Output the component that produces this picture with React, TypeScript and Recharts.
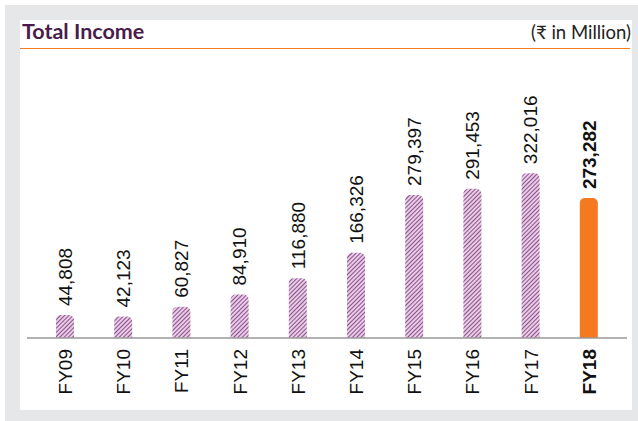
import { BarChart, Bar, XAxis, YAxis, Cell, LabelList } from 'recharts'

const categories = ['FY09', 'FY10', 'FY11', 'FY12', 'FY13', 'FY14', 'FY15', 'FY16', 'FY17', 'FY18']
const totalIncome = [44808, 42123, 60827, 84910, 116880, 166326, 279397, 291453, 322016, 273282]
const highlightYear = 'FY18'

const data = categories.map((year, i) => ({ year, value: totalIncome[i] }))

const FONT = '"Liberation Sans", Arial, sans-serif'

function ValueLabel(props: any) {
  const { x, y, width, value, index } = props
  const cx = x + width / 2
  const ty = y - 9
  const bold = categories[index] === highlightYear
  return (
    <text
      x={cx}
      y={ty}
      dy="0.36em"
      textAnchor="start"
      transform={`rotate(-90 ${cx} ${ty})`}
      fontFamily={FONT}
      fontSize={19}
      fontWeight={bold ? 700 : 400}
      fill="#111"
    >
      {Number(value).toLocaleString('en-US')}
    </text>
  )
}

function YearTick(props: any) {
  const { x, y, payload } = props
  const ty = y + 9
  const bold = payload.value === highlightYear
  return (
    <text
      x={x}
      y={ty}
      dy="0.36em"
      textAnchor="end"
      transform={`rotate(-90 ${x} ${ty})`}
      fontFamily={FONT}
      fontSize={19}
      fontWeight={bold ? 700 : 400}
      fill="#111"
    >
      {payload.value}
    </text>
  )
}

export default function App() {
  return (
    <div style={{ position: 'absolute', left: 0, top: 0, width: 638, height: 421, background: '#fff' }}>
      <div style={{ position: 'absolute', left: 5, top: 5, width: 633, height: 416, background: '#e6e7e8' }} />
      <div style={{ position: 'absolute', left: 20, top: 20, width: 612, height: 390, background: '#fff' }}>
        <div
          style={{
            position: 'absolute', left: 2, top: -1, fontFamily: 'Lato, sans-serif', fontWeight: 700,
            fontSize: 21.5, lineHeight: '24px', color: '#4a1c4c',
          }}
        >
          Total Income
        </div>
        <div
          style={{
            position: 'absolute', right: 1, top: 0, fontFamily: 'Lato, "DejaVu Sans", sans-serif',
            fontSize: 18.5, lineHeight: '24px', color: '#222',
          }}
        >
          (₹ in Million)
        </div>
        <div style={{ position: 'absolute', left: 0, top: 27.5, width: 610, height: 1.5, background: '#f47b20' }} />
        <div style={{ position: 'absolute', left: 0, top: 0 }}>
          <BarChart width={612} height={390} data={data} margin={{ top: 62, right: 5, left: 7, bottom: 0 }} barSize={18}>
            <defs>
              <pattern id="hatch" patternUnits="userSpaceOnUse" width={3} height={3} patternTransform="rotate(45)">
                <rect width={3} height={3} fill="#e8cce6" />
                <line x1={0.5} y1={0} x2={0.5} y2={3} stroke="#7b3b78" strokeWidth={0.85} />
              </pattern>
            </defs>
            <XAxis
              dataKey="year"
              interval={0}
              padding={{ left: 9, right: 9 }}
              tickLine={false}
              tickSize={0}
              axisLine={{ stroke: '#999', strokeWidth: 1.5 }}
              height={72}
              tick={<YearTick />}
            />
            <YAxis hide domain={[0, 500000]} />
            <Bar dataKey="value" radius={[5, 5, 0, 0]} isAnimationActive={false}>
              {data.map((d) => (
                <Cell key={d.year} fill={d.year === highlightYear ? '#f47920' : 'url(#hatch)'} />
              ))}
              <LabelList dataKey="value" content={<ValueLabel />} />
            </Bar>
          </BarChart>
        </div>
      </div>
    </div>
  )
}
